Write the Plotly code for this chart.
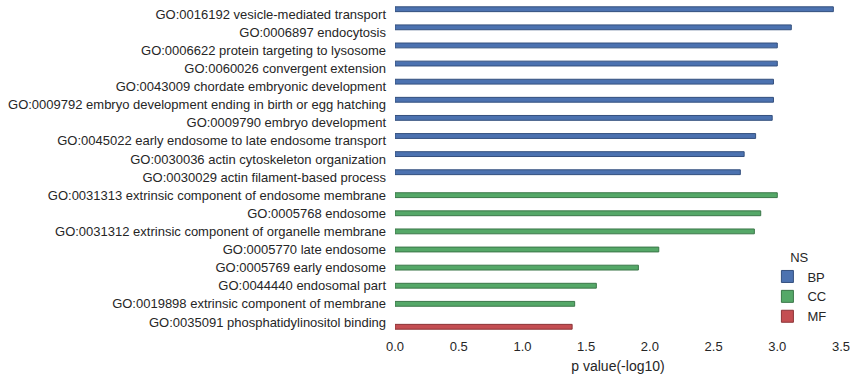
import plotly.graph_objects as go

terms = [
    "GO:0016192 vesicle-mediated transport",
    "GO:0006897 endocytosis",
    "GO:0006622 protein targeting to lysosome",
    "GO:0060026 convergent extension",
    "GO:0043009 chordate embryonic development",
    "GO:0009792 embryo development ending in birth or egg hatching",
    "GO:0009790 embryo development",
    "GO:0045022 early endosome to late endosome transport",
    "GO:0030036 actin cytoskeleton organization",
    "GO:0030029 actin filament-based process",
    "GO:0031313 extrinsic component of endosome membrane",
    "GO:0005768 endosome",
    "GO:0031312 extrinsic component of organelle membrane",
    "GO:0005770 late endosome",
    "GO:0005769 early endosome",
    "GO:0044440 endosomal part",
    "GO:0019898 extrinsic component of membrane",
    "GO:0035091 phosphatidylinositol binding",
]
ns = ["BP"] * 10 + ["CC"] * 7 + ["MF"]
pvals = [3.44, 3.11, 3.00, 3.00, 2.97, 2.97, 2.96, 2.83, 2.74, 2.71,
         3.00, 2.87, 2.82, 2.07, 1.91, 1.58, 1.41,
         1.39]
groups = ["BP", "CC", "MF"]
colors = {"BP": "#4C72B0", "CC": "#55A868", "MF": "#C44E52"}
edges = {"BP": "#34507e", "CC": "#3b7749", "MF": "#8c3538"}

fig = go.Figure()
for g in groups:
    xs = [v if n == g else None for v, n in zip(pvals, ns)]
    fig.add_trace(go.Bar(
        x=xs, y=terms, orientation="h", name=g,
        marker=dict(color=colors[g], line=dict(color=edges[g], width=1)),
    ))

fig.update_layout(
    width=858, height=379,
    barmode="group", bargap=0.2, bargroupgap=0,
    plot_bgcolor="white", paper_bgcolor="white",
    margin=dict(l=395, r=17, t=5, b=48, autoexpand=False),
    font=dict(family="Liberation Sans, Arial, sans-serif", size=13, color="#262626"),
    xaxis=dict(range=[0, 3.5], tickvals=[0, 0.5, 1, 1.5, 2, 2.5, 3, 3.5],
               ticktext=["0.0", "0.5", "1.0", "1.5", "2.0", "2.5", "3.0", "3.5"],
               showgrid=False, zeroline=False, showline=False,
               ticklabelstandoff=6,
               title=dict(text="p value(-log10)", font=dict(size=14), standoff=8)),
    yaxis=dict(categoryorder="array", categoryarray=terms, autorange="reversed",
               showgrid=False, zeroline=False, showline=False,
               ticklabelstandoff=8),
    legend=dict(x=0.835, y=0.265, xanchor="left", yanchor="top",
                title=dict(text="NS", side="top center", font=dict(size=13)),
                font=dict(size=13),
                bgcolor="rgba(0,0,0,0)", tracegroupgap=0),
)

fig.write_html("out.html", config={"displayModeBar": False},
               post_script="document.body.style.margin='0';")
